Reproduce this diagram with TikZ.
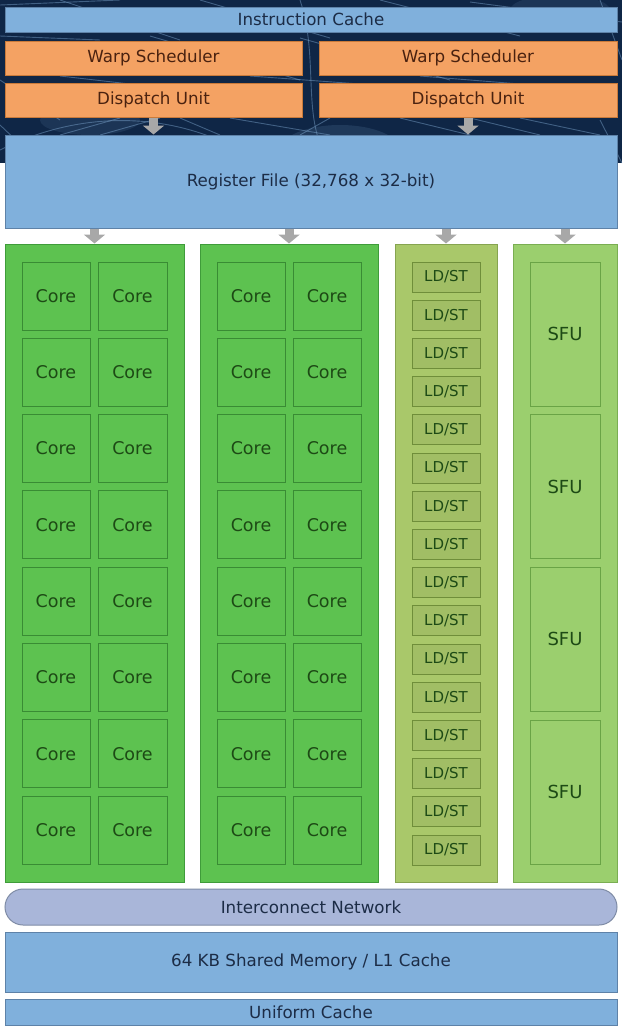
\documentclass[tikz,border=0pt]{standalone}
\usepackage{fontspec}
\setmainfont{DejaVu Sans}
\usetikzlibrary{arrows.meta,calc}
\definecolor{navybg}{HTML}{0F2646}
\definecolor{netcol}{HTML}{7FA8D0}
\definecolor{bluefill}{HTML}{80B0DC}
\definecolor{blueline}{HTML}{5E82A8}
\definecolor{bluetext}{HTML}{1C2C46}
\definecolor{orfill}{HTML}{F4A263}
\definecolor{orline}{HTML}{C97A3A}
\definecolor{ortext}{HTML}{4A2210}
\definecolor{gfill}{HTML}{5DC250}
\definecolor{gline}{HTML}{3F9C3A}
\definecolor{gtext}{HTML}{1D4A15}
\definecolor{lfill}{HTML}{A9C86A}
\definecolor{lline}{HTML}{86A450}
\definecolor{lboxline}{HTML}{6F8E3A}
\definecolor{sfill}{HTML}{9BCF6E}
\definecolor{sline}{HTML}{7AAE52}
\definecolor{sboxline}{HTML}{6AA446}
\definecolor{icfill}{HTML}{A9B6D9}
\definecolor{icline}{HTML}{7F8CA6}
\definecolor{arrcol}{HTML}{A8A8A8}
\tikzset{
  base/.style={rectangle, inner sep=0pt, line width=1pt, align=center},
  bluebox/.style={base, fill=bluefill, draw=blueline, text=bluetext, font=\fontsize{16.7}{20}\selectfont},
  orbox/.style={base, fill=orfill, draw=orline, text=ortext, font=\fontsize{16.7}{20}\selectfont, minimum width=297pt, minimum height=34pt},
  gcol/.style={base, fill=gfill, draw=gline, minimum width=179pt, minimum height=638pt},
  corebox/.style={base, fill=gfill, draw=gline!90!black, text=gtext, font=\fontsize{17.5}{20}\selectfont, minimum width=68pt, minimum height=68pt},
  lcol/.style={base, fill=lfill, draw=lline, minimum width=102pt, minimum height=638pt},
  ldbox/.style={base, fill=lfill!95!black, draw=lboxline, text=gtext, font=\fontsize{15}{18}\selectfont, minimum width=68pt, minimum height=30pt},
  scol/.style={base, fill=sfill, draw=sline, minimum width=104pt, minimum height=638pt},
  sfubox/.style={base, fill=sfill, draw=sboxline, text=gtext, font=\fontsize{18}{20}\selectfont, minimum width=70pt, minimum height=144pt},
  icbox/.style={base, fill=icfill, draw=icline, text=bluetext, font=\fontsize{16.7}{20}\selectfont, rounded corners=18pt, minimum width=612pt, minimum height=36pt},
  blockarrow/.style={draw=arrcol, line width=9pt, -{Triangle[width=21pt,length=9pt]}},
  netline/.style={netcol, line width=0.9pt, opacity=0.45}
}
\begin{document}
\begin{tikzpicture}[x=1pt,y=-1pt]
\useasboundingbox (0,0) rectangle (622,1034);
\fill[white] (0,0) rectangle (622,1034);
\fill[navybg] (0,0) rectangle (622,163);
\begin{scope}
\clip (0,0) rectangle (622,163);
\fill[netcol, opacity=0.15] (340,150) ellipse (60pt and 25pt);
\fill[netcol, opacity=0.12] (560,10) ellipse (50pt and 15pt);
\fill[netcol, opacity=0.12] (90,120) ellipse (50pt and 15pt);
\draw[netline] (0,5) -- (120,0);
\draw[netline] (60,0) -- (180,40);
\draw[netline] (200,0) -- (330,38);
\draw[netline] (380,0) -- (520,36);
\draw[netline] (470,2) -- (622,22);
\draw[netline] (0,36) -- (100,40);
\draw[netline] (150,36) -- (300,80);
\draw[netline] (300,38) -- (450,80);
\draw[netline] (600,0) -- (622,60);
\draw[netline] (0,80) -- (60,120);
\draw[netline] (230,118) -- (330,135);
\draw[netline] (160,118) -- (100,135);
\draw[netline] (120,118) -- (60,135);
\draw[netline] (180,118) -- (220,135);
\draw[netline] (400,118) -- (470,135);
\draw[netline] (470,118) -- (540,135);
\draw[netline] (520,118) -- (600,135);
\draw[netline] (330,118) -- (300,135);
\draw[netline] (0,125) -- (40,163);
\draw[netline] (600,120) -- (622,163);
\draw[netline] (250,76) -- (360,84);
\draw[netline] (60,76) -- (130,84);
\draw[netline] (420,76) -- (520,84);
\draw[netline] (300,0) .. controls (320,60) and (300,120) .. (330,163);
\draw[netline] (0,150) .. controls (100,100) and (200,120) .. (260,163);
\end{scope}

\node[bluebox, minimum width=612pt, minimum height=25pt] (icache) at (311,19.5) {Instruction Cache};
\node[orbox] (ws1) at (153.5,58) {Warp Scheduler};
\node[orbox, minimum width=298pt] (ws2) at (468,58) {Warp Scheduler};
\node[orbox] (du1) at (153.5,100) {Dispatch Unit};
\node[orbox, minimum width=298pt] (du2) at (468,100) {Dispatch Unit};
\node[bluebox, minimum width=612pt, minimum height=93pt] (reg) at (311,181.5) {Register File (32,768 x 32-bit)};

\node[gcol] (col1) at (94.5,563) {};
\node[gcol, minimum width=178pt] (col2) at (289,563) {};
\node[lcol] (col3) at (446,563) {};
\node[scol] (col4) at (565,563) {};

\foreach \i in {0,...,7}{
  \node[corebox] (ca\i) at (56,296+76.3*\i) {Core};
  \node[corebox, minimum width=69pt] (cb\i) at (132.5,296+76.3*\i) {Core};
  \node[corebox] (cc\i) at (251,296+76.3*\i) {Core};
  \node[corebox] (cd\i) at (327,296+76.3*\i) {Core};
}
\foreach \i in {0,...,15}{
  \node[ldbox] (ld\i) at (446,277+38.2*\i) {LD/ST};
}
\foreach \i in {0,...,3}{
  \node[sfubox] (sfu\i) at (565,334+152.67*\i) {SFU};
}

\node[icbox] (inet) at (311,907) {Interconnect Network};
\node[bluebox, minimum width=612pt, minimum height=60pt] (smem) at (311,962) {64 KB Shared Memory / L1 Cache};
\node[bluebox, minimum width=612pt, minimum height=26pt] (ucache) at (311,1012) {Uniform Cache};

\draw[blockarrow] (du1.south) -- (du1.south |- reg.north);
\draw[blockarrow] (du2.south) -- (du2.south |- reg.north);
\draw[blockarrow] (col1.north |- reg.south) -- (col1.north);
\draw[blockarrow] (col2.north |- reg.south) -- (col2.north);
\draw[blockarrow] (col3.north |- reg.south) -- (col3.north);
\draw[blockarrow] (col4.north |- reg.south) -- (col4.north);
\end{tikzpicture}
\end{document}
